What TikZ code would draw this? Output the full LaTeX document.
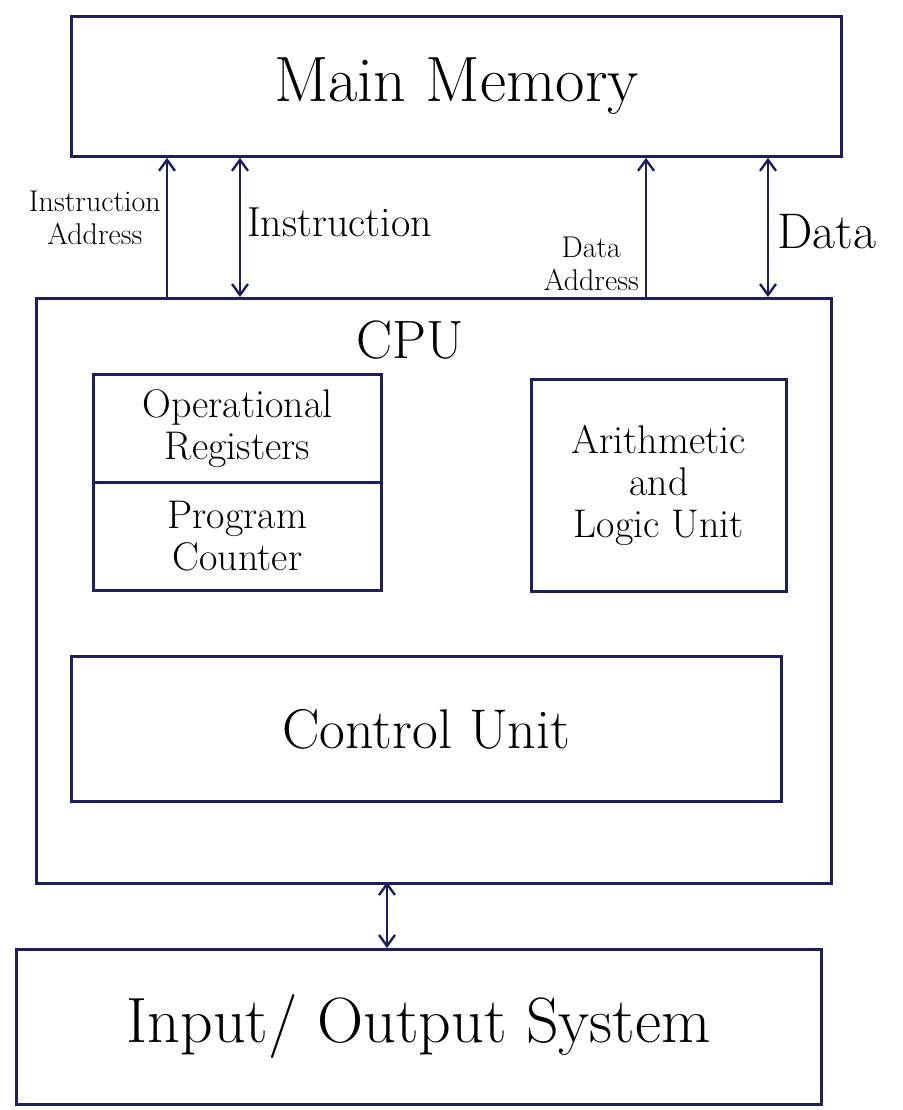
\documentclass[tikz,border=0pt]{standalone}
\usetikzlibrary{arrows.meta}
\definecolor{ink}{HTML}{1E1F5C}
\begin{document}
\begin{tikzpicture}[x=1pt,y=-1pt,
  box/.style={draw=ink,line width=2.8pt},
  conn/.style={draw=ink,line width=2.4pt,-{Straight Barb[length=11pt,width=16pt,line width=2.4pt]}},
  dconn/.style={draw=ink,line width=2.4pt,{Straight Barb[length=11pt,width=16pt,line width=2.4pt]}-{Straight Barb[length=11pt,width=16pt,line width=2.4pt]}},
  big/.style={font=\fontsize{64}{64}\selectfont},
  mid/.style={font=\fontsize{40}{42}\selectfont,align=center},
  lbl/.style={font=\fontsize{30}{33}\selectfont,align=center,inner sep=1pt}]
\useasboundingbox (0,0) rectangle (902,1110);
% boxes
\node[box,minimum width=770pt,minimum height=140pt,anchor=north west,big] (mm) at (70,15) {Main Memory};
\node[box,minimum width=795pt,minimum height=585pt,anchor=north west] (cpubox) at (35,297) {};
\node[font=\fontsize{54}{54}\selectfont] (cpu) at (410,340) {CPU};
\node[box,minimum width=288pt,minimum height=108pt,anchor=north west,mid] (opr) at (92,373) {Operational\\Registers};
\node[box,minimum width=288pt,minimum height=108pt,anchor=north west,mid] (pc) at (92,481) {Program\\Counter};
\node[box,minimum width=255pt,minimum height=212pt,anchor=north west,mid] (alu) at (530,378) {Arithmetic\\and\\Logic Unit};
\node[box,minimum width=710pt,minimum height=145pt,anchor=north west,font=\fontsize{56}{56}\selectfont] (cu) at (70,655) {Control Unit};
\node[box,minimum width=805pt,minimum height=155pt,anchor=north west,big] (io) at (15,948) {Input/ Output System};
% connector endpoints on CPU top
\coordinate (ia) at (167,297);
\coordinate (in) at (240,297);
\coordinate (da) at (646,297);
\coordinate (dt) at (768,297);
\coordinate (cpub) at (387,882);
% connectors
\draw[conn] (ia) -- (ia |- mm.south);
\draw[dconn] (in) -- (in |- mm.south);
\draw[conn] (da) -- (da |- mm.south);
\draw[dconn] (dt) -- (dt |- mm.south);
\draw[dconn] (cpub) -- (cpub |- io.north);
% labels
\node[lbl,anchor=east] (lia) at (162,218) {Instruction\\Address};
\node[lbl,anchor=west,font=\fontsize{42}{42}\selectfont] (lin) at (246,222) {Instruction};
\node[lbl,anchor=east] (lda) at (640,264) {Data\\Address};
\node[lbl,anchor=west,font=\fontsize{50}{50}\selectfont] (ldt) at (776,232) {Data};
\end{tikzpicture}
\end{document}
